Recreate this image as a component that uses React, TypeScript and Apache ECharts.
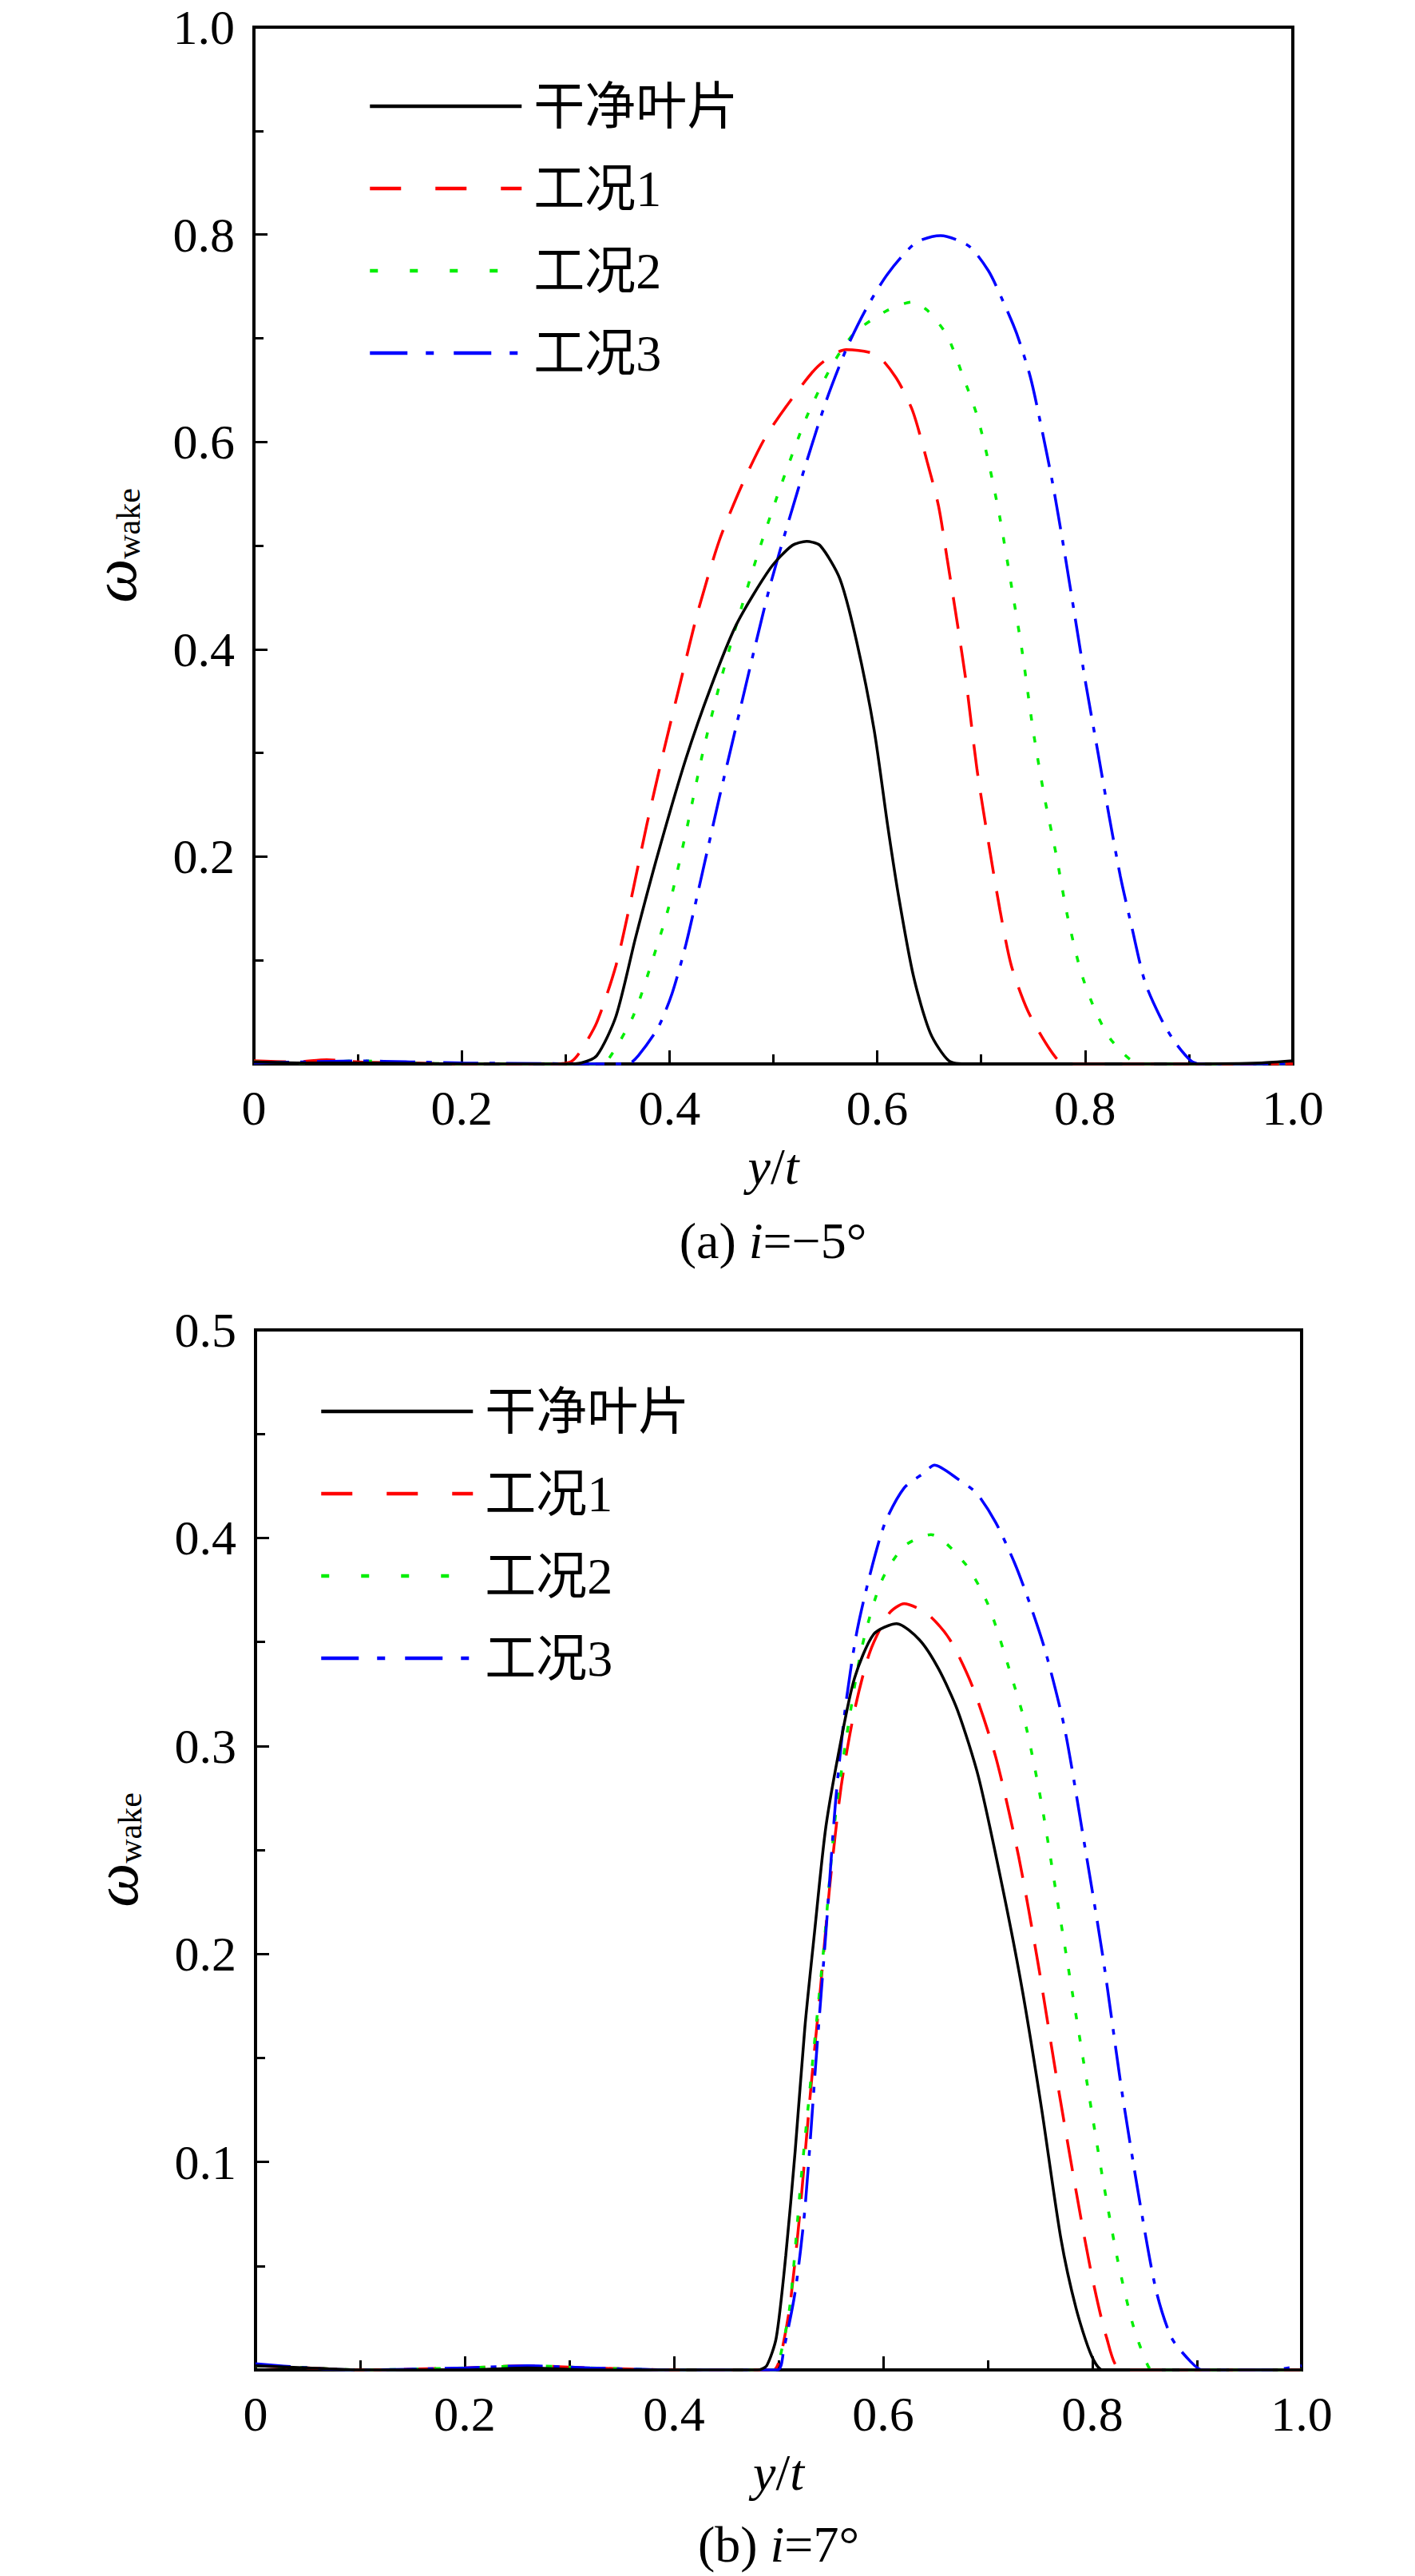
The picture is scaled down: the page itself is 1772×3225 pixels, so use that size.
import React, { useEffect, useRef } from "react";
import * as echarts from "echarts";

const seriesNames = ["干净叶片", "工况1", "工况2", "工况3"];
const seriesColors = ["#000000", "#ff0000", "#00ee00", "#0000ff"];
const captionA = "(a) {i|i}=−5°";
const captionB = "(b) {i|i}=7°";

// (a) i = -5°
const cleanA: [number, number][] = [
  [0, 0.002], [0.05, 0.001], [0.1, 0.001], [0.2, 0], [0.3, 0], [0.315, 0.001], [0.33, 0.008],
  [0.3485, 0.046], [0.3674, 0.122], [0.389, 0.203], [0.416, 0.295], [0.44, 0.364], [0.4645, 0.424],
  [0.497, 0.478], [0.518, 0.5], [0.532, 0.504], [0.545, 0.5], [0.564, 0.468], [0.58, 0.408],
  [0.597, 0.322], [0.61, 0.23], [0.621, 0.159], [0.635, 0.084], [0.651, 0.03], [0.669, 0.003],
  [0.688, 0], [0.72, 0], [0.9, 0], [0.97, 0.001], [1.0, 0.003],
];
const case1A: [number, number][] = [
  [0, 0.003], [0.04, 0.002], [0.07, 0.004], [0.1, 0.002], [0.15, 0.001], [0.2, 0], [0.29, 0],
  [0.305, 0.002], [0.3135, 0.011], [0.33, 0.04], [0.3485, 0.095], [0.362, 0.154], [0.378, 0.23],
  [0.394, 0.3], [0.411, 0.37], [0.427, 0.435], [0.448, 0.505], [0.47, 0.559], [0.4915, 0.603],
  [0.513, 0.635], [0.543, 0.673], [0.57, 0.689], [0.599, 0.684], [0.618, 0.662], [0.634, 0.63],
  [0.648, 0.581], [0.659, 0.538], [0.667, 0.489], [0.678, 0.419], [0.686, 0.365], [0.696, 0.284],
  [0.707, 0.214], [0.718, 0.149], [0.729, 0.095], [0.745, 0.051], [0.7665, 0.0135], [0.78, 0],
  [0.85, 0], [1.0, 0],
];
const case2A: [number, number][] = [
  [0, 0.002], [0.05, 0.001], [0.1, 0.003], [0.15, 0.001], [0.2, 0], [0.33, 0], [0.34, 0.003],
  [0.365, 0.046], [0.3836, 0.1], [0.4, 0.154], [0.416, 0.224], [0.432, 0.3], [0.448, 0.365],
  [0.4645, 0.424], [0.486, 0.495], [0.5077, 0.559], [0.532, 0.624], [0.556, 0.673], [0.578, 0.705],
  [0.61, 0.727], [0.634, 0.735], [0.648, 0.727], [0.667, 0.703], [0.683, 0.662], [0.6965, 0.624],
  [0.707, 0.581], [0.718, 0.527], [0.729, 0.462], [0.7396, 0.397], [0.75, 0.322], [0.761, 0.257],
  [0.772, 0.203], [0.783, 0.143], [0.796, 0.089], [0.81, 0.051], [0.826, 0.022], [0.853, 0], [1.0, 0],
];
const case3A: [number, number][] = [
  [0, 0.001], [0.05, 0.002], [0.1, 0.003], [0.15, 0.002], [0.2, 0.001], [0.36, 0], [0.37, 0.008],
  [0.389, 0.035], [0.4025, 0.068], [0.416, 0.116], [0.432, 0.186], [0.448, 0.257], [0.4645, 0.327],
  [0.481, 0.397], [0.497, 0.462], [0.5157, 0.527], [0.532, 0.581], [0.551, 0.64], [0.57, 0.689],
  [0.5886, 0.727], [0.61, 0.762], [0.637, 0.792], [0.661, 0.799], [0.688, 0.789], [0.707, 0.765],
  [0.72, 0.738], [0.734, 0.705], [0.7475, 0.662], [0.758, 0.614], [0.769, 0.559], [0.78, 0.495],
  [0.7905, 0.43], [0.801, 0.365], [0.8125, 0.3], [0.823, 0.24], [0.834, 0.181], [0.845, 0.132],
  [0.858, 0.078], [0.875, 0.04], [0.888, 0.019], [0.902, 0.003], [0.91, 0], [1.0, 0],
];

// (b) i = 7°
const cleanB: [number, number][] = [
  [0, 0.002], [0.05, 0.001], [0.1, 0], [0.2, 0], [0.26, 0.001], [0.32, 0], [0.4, 0], [0.48, 0],
  [0.4886, 0.002], [0.4978, 0.0155], [0.5069, 0.055], [0.516, 0.106], [0.5252, 0.165], [0.5343, 0.21],
  [0.5452, 0.261], [0.5598, 0.303], [0.5726, 0.3326], [0.5909, 0.3537], [0.6128, 0.3588], [0.6347, 0.351],
  [0.653, 0.337], [0.6712, 0.317], [0.6913, 0.2847], [0.715, 0.2297], [0.7333, 0.1818], [0.7515, 0.1254],
  [0.7698, 0.0634], [0.7844, 0.0296], [0.799, 0.007], [0.81, 0], [1.0, 0],
];
const case1B: [number, number][] = [
  [0, 0.002], [0.05, 0.001], [0.1, 0], [0.2, 0.001], [0.26, 0.002], [0.32, 0.001], [0.4, 0], [0.495, 0],
  [0.5014, 0.0056], [0.5106, 0.03], [0.5197, 0.072], [0.5306, 0.134], [0.5398, 0.182], [0.5489, 0.2325],
  [0.5598, 0.2804], [0.5726, 0.317], [0.5872, 0.345], [0.6055, 0.3636], [0.62, 0.3684], [0.642, 0.3636],
  [0.6639, 0.351], [0.6858, 0.328], [0.7077, 0.2945], [0.7296, 0.2466], [0.7479, 0.1959], [0.7661, 0.1395],
  [0.7844, 0.086], [0.799, 0.0465], [0.8136, 0.0155], [0.828, 0], [1.0, 0],
];
const case2B: [number, number][] = [
  [0, 0.002], [0.05, 0.001], [0.1, 0], [0.2, 0.001], [0.26, 0.002], [0.32, 0.001], [0.4, 0], [0.497, 0],
  [0.5014, 0.006], [0.5106, 0.03], [0.5215, 0.0916], [0.5325, 0.148], [0.5434, 0.204], [0.5543, 0.266],
  [0.5671, 0.3114], [0.5799, 0.348], [0.5982, 0.379], [0.62, 0.396], [0.6456, 0.4016], [0.6785, 0.3875],
  [0.7004, 0.3678], [0.7223, 0.334], [0.7369, 0.3086], [0.7515, 0.272], [0.7661, 0.227], [0.7807, 0.1818],
  [0.7953, 0.1367], [0.81, 0.0916], [0.8245, 0.052], [0.8391, 0.0211], [0.8537, 0.0014], [0.86, 0], [1.0, 0],
];
const case3B: [number, number][] = [
  [0, 0.003], [0.05, 0.001], [0.1, 0], [0.2, 0.001], [0.26, 0.002], [0.32, 0.001], [0.4, 0], [0.499, 0],
  [0.505, 0.01], [0.516, 0.038], [0.5252, 0.0775], [0.5361, 0.151], [0.5452, 0.21], [0.5543, 0.272],
  [0.5635, 0.317], [0.5744, 0.3537], [0.5872, 0.382], [0.6018, 0.4073], [0.62, 0.424], [0.6383, 0.431],
  [0.649, 0.435], [0.6712, 0.4284], [0.6895, 0.4214], [0.7077, 0.4073], [0.726, 0.3875], [0.7406, 0.3678],
  [0.7552, 0.3453], [0.7734, 0.3086], [0.7917, 0.255], [0.81, 0.1987], [0.8282, 0.1339], [0.8464, 0.0775],
  [0.861, 0.038], [0.8756, 0.0155], [0.8939, 0.004], [0.905, 0], [0.97, 0], [1.0, 0.002],
];

const dataA = [cleanA, case1A, case2A, case3A];
const dataB = [cleanB, case1B, case2B, case3B];

const FONT = "'Liberation Serif', 'Times New Roman', 'Noto Sans CJK SC', serif";
const curveDash: any[] = ["solid", [40, 22], [8, 20], [44, 14, 7, 14]];
const legendDash: any[] = ["solid", [39, 43], [10, 40], [47, 23, 10, 25]];

function makeAxes(gridIndex: number, yMax: number, yInterval: number) {
  const tickLabel = { fontSize: 62, color: "#000", fontFamily: FONT };
  const xAxis = {
    type: "value",
    gridIndex,
    min: 0,
    max: 1,
    interval: 0.2,
    name: "{i|y}/{i|t}",
    nameLocation: "middle",
    nameGap: 96,
    nameTextStyle: {
      fontSize: 64,
      color: "#000",
      fontFamily: FONT,
      rich: { i: { fontStyle: "italic", fontSize: 64, fontFamily: FONT, color: "#000" } },
    },
    axisLine: { show: true, lineStyle: { color: "#000", width: 4 } },
    axisTick: { show: true, inside: true, length: 17, lineStyle: { color: "#000", width: 3 } },
    minorTick: { show: true, splitNumber: 2, length: 12, lineStyle: { color: "#000", width: 3 } },
    splitLine: { show: false },
    axisLabel: {
      ...tickLabel,
      margin: 24,
      formatter: (v: number) => (v === 0 ? "0" : v.toFixed(1)),
    },
  };
  const yAxis = {
    type: "value",
    gridIndex,
    min: 0,
    max: yMax,
    interval: yInterval,
    name: "{w|ω}{s|wake}",
    nameLocation: "middle",
    nameRotate: 90,
    nameGap: 136,
    nameTextStyle: {
      color: "#000",
      fontFamily: FONT,
      rich: {
        w: { fontStyle: "italic", fontSize: 78, fontFamily: FONT, color: "#000", verticalAlign: "bottom", lineHeight: 78 },
        s: { fontSize: 42, fontFamily: FONT, color: "#000", verticalAlign: "bottom", lineHeight: 78 },
      },
    },
    axisLine: { show: true, lineStyle: { color: "#000", width: 4 } },
    axisTick: { show: true, inside: true, length: 17, lineStyle: { color: "#000", width: 3 } },
    minorTick: { show: true, splitNumber: 2, length: 12, lineStyle: { color: "#000", width: 3 } },
    splitLine: { show: false },
    axisLabel: {
      ...tickLabel,
      margin: 24,
      formatter: (v: number) => (v === 0 ? "" : v.toFixed(1)),
    },
  };
  return { xAxis, yAxis };
}

function makeSeries(sets: [number, number][][], axisIndex: number) {
  return sets.map((d, i) => ({
    type: "line",
    name: seriesNames[i],
    xAxisIndex: axisIndex,
    yAxisIndex: axisIndex,
    data: d,
    symbol: "none",
    showSymbol: false,
    smooth: 0.25,
    lineStyle: { color: seriesColors[i], width: 3.5, type: curveDash[i] },
    itemStyle: { color: seriesColors[i] },
    z: i === 0 ? 3 : 2,
  }));
}

function makeLegend(left: number, top: number) {
  return {
    orient: "vertical",
    left,
    top,
    padding: 0,
    itemWidth: 190,
    itemHeight: 20,
    itemGap: 39,
    selectedMode: false,
    textStyle: { fontSize: 64, lineHeight: 64, color: "#000", fontFamily: FONT, padding: [0, 0, 0, 10] },
    data: seriesNames.map((n, i) => ({
      name: n,
      itemStyle: { color: seriesColors[i], opacity: 0, borderWidth: 0 },
      lineStyle: { color: seriesColors[i], width: 4.5, type: legendDash[i], opacity: 1 },
    })),
  };
}

export default function App() {
  const ref = useRef<HTMLDivElement>(null);
  useEffect(() => {
    if (!ref.current) return;
    const chart = echarts.init(ref.current, undefined, { renderer: "svg" });
    const a = makeAxes(0, 1.0, 0.2);
    const b = makeAxes(1, 0.5, 0.1);
    const option: any = {
      animation: false,
      backgroundColor: "#fff",
      textStyle: { fontFamily: FONT },
      grid: [
        { left: 318, top: 34, width: 1301, height: 1298, show: true, borderColor: "#000", borderWidth: 4, backgroundColor: "transparent" },
        { left: 320, top: 1665, width: 1310, height: 1302, show: true, borderColor: "#000", borderWidth: 4, backgroundColor: "transparent" },
      ],
      xAxis: [a.xAxis, b.xAxis],
      yAxis: [a.yAxis, b.yAxis],
      legend: [makeLegend(461, 101), makeLegend(400, 1735)],
      series: [...makeSeries(dataA, 0), ...makeSeries(dataB, 1)],
      graphic: [
        {
          type: "text",
          x: 968,
          y: 1553,
          style: {
            text: captionA,
            fontSize: 64,
            fontFamily: FONT,
            fill: "#000",
            textAlign: "center",
            textVerticalAlign: "middle",
            rich: { i: { fontStyle: "italic", fontSize: 64, fontFamily: FONT, fill: "#000" } },
          },
        },
        {
          type: "text",
          x: 975,
          y: 3185,
          style: {
            text: captionB,
            fontSize: 64,
            fontFamily: FONT,
            fill: "#000",
            textAlign: "center",
            textVerticalAlign: "middle",
            rich: { i: { fontStyle: "italic", fontSize: 64, fontFamily: FONT, fill: "#000" } },
          },
        },
      ],
    };
    chart.setOption(option);
    return () => chart.dispose();
  }, []);
  return (
    <div
      ref={ref}
      style={{ position: "absolute", left: 0, top: 0, width: 1772, height: 3225, background: "#fff" }}
    />
  );
}
